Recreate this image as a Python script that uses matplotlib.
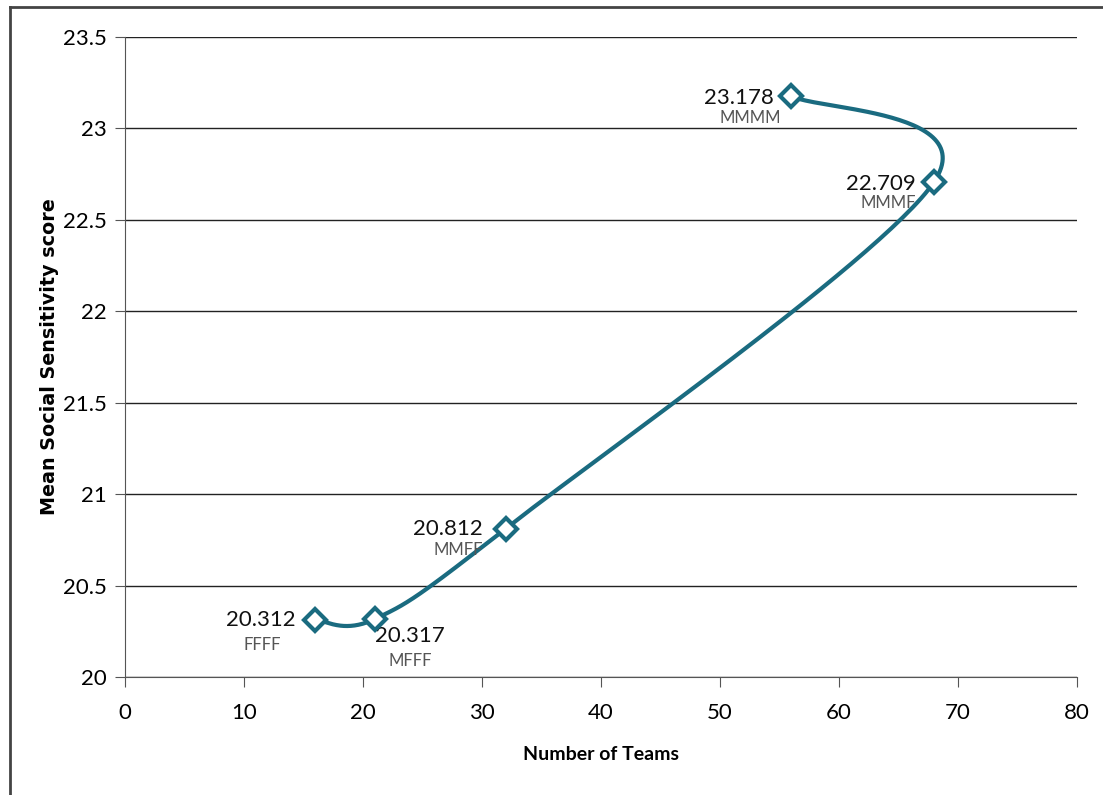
import numpy as np
import matplotlib
matplotlib.use("Agg")
import matplotlib.pyplot as plt
from matplotlib.lines import Line2D

# data (in the order the line is drawn)
teams = [16, 21, 32, 68, 56]
scores = [20.312, 20.317, 20.812, 22.709, 23.178]
groups = ["FFFF", "MFFF", "MMFF", "MMMF", "MMMM"]

# label offsets in pixels: (value dx, dy, ha), (group dx, dy)
val_off = [(-20, 0, "right"), (35, -17, "center"), (-23, 0, "right"), (-18, -2, "right"), (-18, -2, "right")]
grp_off = [(-53, -25), (35, -42), (-48, -21), (-46, -21), (-41, -22)]

plt.rcParams["font.family"] = ["Lato", "DejaVu Sans"]
line_color = "#1a6b80"

fig = plt.figure(figsize=(11.03, 7.95), dpi=100)
ax = fig.add_axes([125 / 1103, 1 - 677 / 795, 952 / 1103, 640 / 795])
ax.set_xlim(0, 80)
ax.set_ylim(20, 23.5)
ax.set_xticks(range(0, 81, 10))
ax.set_yticks(np.arange(20, 23.51, 0.5))
ax.set_yticklabels(["20", "20.5", "21", "21.5", "22", "22.5", "23", "23.5"])
ax.yaxis.grid(True, color="#222222", linewidth=1.0)
ax.set_axisbelow(True)
for s in ["top", "right"]:
    ax.spines[s].set_visible(False)
for s in ["left", "bottom"]:
    ax.spines[s].set_color("#555555")
ax.tick_params(axis="both", direction="out", length=7, color="#555555", labelsize=16, pad=6)
ax.tick_params(axis="x", pad=12)

ax.set_xlabel("Number of Teams", fontsize=14, fontweight="bold", labelpad=16)
ax.set_ylabel("Mean Social Sensitivity score", fontsize=13.8, fontweight="bold", labelpad=3,
              family="DejaVu Sans")

# smooth line like Excel: Catmull-Rom style bezier in screen space
pts = ax.transData.transform(np.column_stack([teams, scores]))
ext = np.vstack([pts[0], pts, pts[-1]])
curve = []
tt = np.linspace(0, 1, 60)
for i in range(len(pts) - 1):
    p0, p1, p2, p3 = ext[i], ext[i + 1], ext[i + 2], ext[i + 3]
    c1 = p1 + (p2 - p0) / 6
    c2 = p2 - (p3 - p1) / 6
    seg = ((1 - tt) ** 3)[:, None] * p1 + (3 * (1 - tt) ** 2 * tt)[:, None] * c1 \
        + (3 * (1 - tt) * tt ** 2)[:, None] * c2 + (tt ** 3)[:, None] * p2
    curve.append(seg)
curve = ax.transData.inverted().transform(np.vstack(curve))
ax.plot(curve[:, 0], curve[:, 1], color=line_color, linewidth=3, solid_capstyle="round", clip_on=False)
ax.plot(teams, scores, linestyle="none", marker="D", markersize=11, markerfacecolor="white",
        markeredgecolor=line_color, markeredgewidth=3, clip_on=False, zorder=5)

for x, y, g, vo, go in zip(teams, scores, groups, val_off, grp_off):
    ax.annotate(f"{y:.3f}", (x, y), xytext=(vo[0], vo[1]), textcoords="offset pixels",
                ha=vo[2], va="center", fontsize=16, color="#111111")
    ax.annotate(g, (x, y), xytext=go, textcoords="offset pixels",
                ha="center", va="center", fontsize=12, color="#555555")

# outer frame (top and left only)
fig.add_artist(Line2D([10 / 1103, 1], [1 - 7 / 795, 1 - 7 / 795], color="#444444", linewidth=2))
fig.add_artist(Line2D([10 / 1103, 10 / 1103], [0, 1 - 7 / 795], color="#444444", linewidth=2))

fig.savefig("out.png", dpi=100)
